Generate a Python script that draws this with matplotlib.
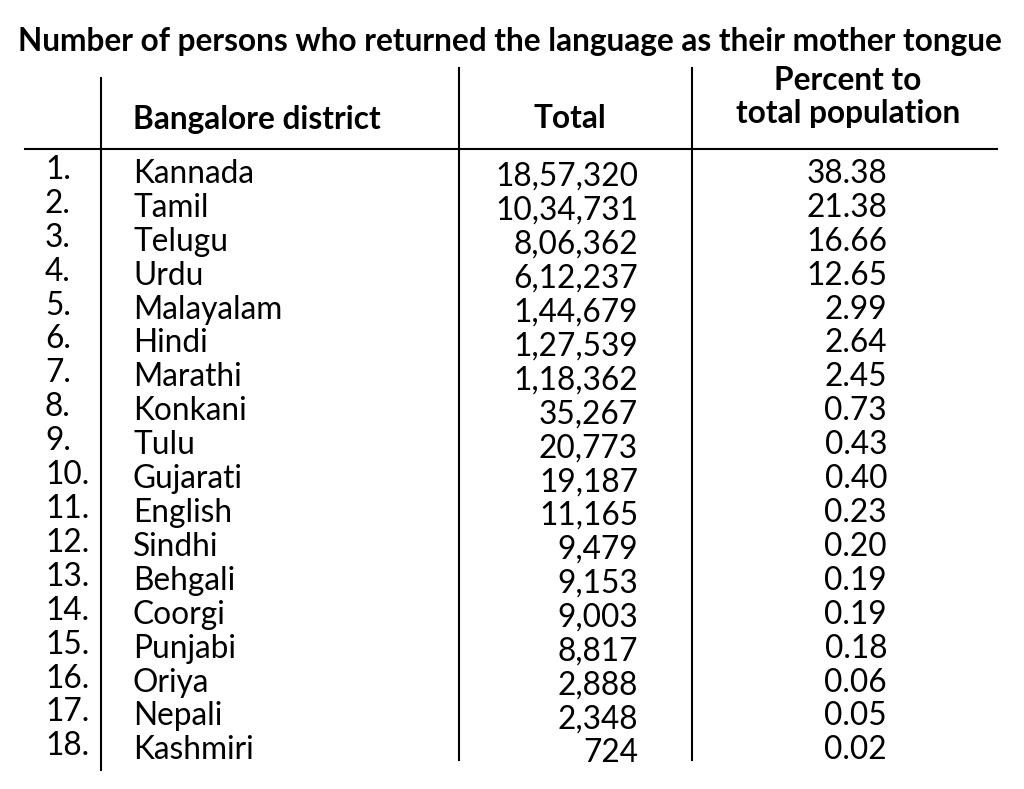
import matplotlib
matplotlib.use("Agg")
import matplotlib.pyplot as plt
from matplotlib.lines import Line2D

languages = ["Kannada","Tamil","Telugu","Urdu","Malayalam","Hindi","Marathi","Konkani","Tulu",
             "Gujarati","English","Sindhi","Behgali","Coorgi","Punjabi","Oriya","Nepali","Kashmiri"]
totals = ["18,57,320","10,34,731","8,06,362","6,12,237","1,44,679","1,27,539","1,18,362","35,267",
          "20,773","19,187","11,165","9,479","9,153","9,003","8,817","2,888","2,348","724"]
percents = ["38.38","21.38","16.66","12.65","2.99","2.64","2.45","0.73","0.43","0.40","0.23",
            "0.20","0.19","0.19","0.18","0.06","0.05","0.02"]

W, H = 1024, 789
fig = plt.figure(figsize=(W/100, H/100), dpi=100)
plt.rcParams['font.family'] = ['Lato', 'DejaVu Sans']

def T(x, y, s, **kw):
    fig.text(x/W, 1 - y/H, s, va='center', **kw)

def L(x0, y0, x1, y1):
    fig.add_artist(Line2D([x0/W, x1/W], [1-y0/H, 1-y1/H], color='black', lw=1.5))

fs = 22.8
T(510, 41, "Number of persons who returned the language as their mother tongue",
  ha='center', fontsize=fs, fontweight='bold')
T(133, 119, "Bangalore district", ha='left', fontsize=fs, fontweight='bold')
T(570, 119, "Total", ha='center', fontsize=fs, fontweight='bold')
T(848, 80, "Percent to", ha='center', fontsize=fs, fontweight='bold')
T(848, 114, "total population", ha='center', fontsize=fs, fontweight='bold')

L(101, 78, 101, 770)
L(459, 68, 459, 760)
L(692, 68, 692, 760)
L(25, 149, 997, 149)

y0, dy = 174, 33.9
for i, (lang, tot, pct) in enumerate(zip(languages, totals, percents)):
    y = y0 + i*dy
    T(45, y-4, f"{i+1}.", ha='left', fontsize=fs)
    T(133, y, lang, ha='left', fontsize=fs)
    T(638, y+3, tot, ha='right', fontsize=fs)
    T(887, y, pct, ha='right', fontsize=fs)

fig.savefig("out.png", dpi=100)
